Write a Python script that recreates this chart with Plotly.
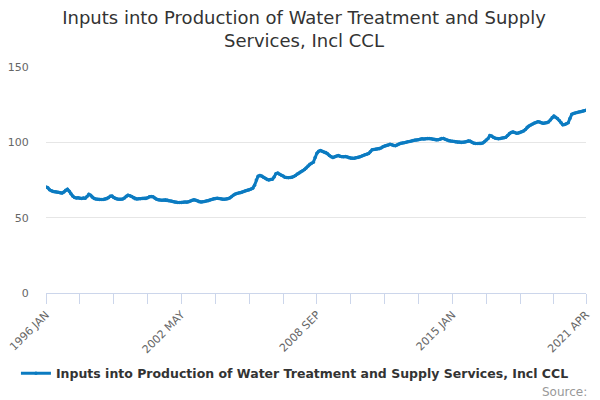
import plotly.graph_objects as go

# --- data: monthly index values, 1996 JAN .. 2021 APR ---
YEARS = list(range(1996, 2022))
MONTH_NAMES = ["JAN", "FEB", "MAR", "APR", "MAY", "JUN",
               "JUL", "AUG", "SEP", "OCT", "NOV", "DEC"]

v1996 = [70.4, 69.8, 68.5, 67.8, 67.4, 67.2, 67.0, 66.8, 66.5, 66.3, 67.0, 68.2]
v1997 = [68.8, 67.5, 65.8, 64.3, 63.4, 63.0, 63.2, 62.9, 62.7, 63.0, 62.9, 64.0]
v1998 = [65.5, 64.9, 63.6, 62.8, 62.4, 62.2, 62.1, 62.0, 62.1, 62.3, 62.6, 63.2]
v1999 = [64.2, 64.3, 63.4, 62.7, 62.4, 62.3, 62.2, 62.4, 63.0, 64.2, 64.9, 64.6]
v2000 = [64.0, 63.2, 62.6, 62.4, 62.5, 62.6, 62.8, 62.7, 62.8, 63.2, 63.8, 64.0]
v2001 = [63.8, 63.0, 62.3, 61.9, 61.7, 61.6, 61.8, 61.9, 61.7, 61.3, 61.0, 60.7]
v2002 = [60.4, 60.2, 60.1, 60.0, 60.1, 60.3, 60.4, 60.2, 60.5, 61.0, 61.5, 61.9]
v2003 = [61.6, 61.0, 60.6, 60.4, 60.5, 60.7, 61.0, 61.3, 61.7, 62.1, 62.5, 62.8]
v2004 = [62.9, 62.7, 62.5, 62.3, 62.3, 62.4, 62.6, 63.0, 63.8, 64.8, 65.6, 66.0]
v2005 = [66.3, 66.6, 66.9, 67.3, 67.8, 68.2, 68.5, 69.0, 69.6, 71.5, 75.0, 77.5]
v2006 = [78.0, 77.6, 76.9, 76.2, 75.4, 75.0, 75.3, 75.5, 77.0, 79.2, 79.6, 78.8]
v2007 = [78.2, 77.6, 76.9, 76.6, 76.5, 76.6, 76.8, 77.3, 78.0, 78.9, 79.6, 80.5]
v2008 = [81.2, 82.0, 83.0, 84.3, 85.5, 86.2, 86.8, 90.0, 92.8, 94.0, 94.5, 94.0]
v2009 = [93.6, 93.2, 92.4, 91.3, 90.5, 89.9, 90.4, 91.0, 91.2, 90.8, 90.5, 90.5]
v2010 = [90.6, 90.2, 89.8, 89.5, 89.4, 89.5, 89.7, 90.0, 90.2, 90.8, 91.3, 91.8]
v2011 = [92.1, 92.6, 93.8, 95.0, 95.2, 95.4, 95.6, 95.8, 96.3, 97.0, 97.6, 97.9]
v2012 = [98.2, 98.7, 98.4, 97.9, 97.8, 98.3, 98.9, 99.4, 99.6, 99.8, 100.1, 100.4]
v2013 = [100.6, 100.9, 101.2, 101.6, 101.5, 101.7, 102.0, 102.3, 102.2, 102.4, 102.5, 102.6]
v2014 = [102.4, 102.1, 101.8, 101.6, 101.7, 102.0, 102.5, 102.6, 102.0, 101.5, 101.1, 100.9]
v2015 = [100.8, 100.6, 100.3, 100.1, 100.0, 99.9, 100.0, 100.2, 100.5, 101.0, 100.8, 100.0]
v2016 = [99.4, 99.3, 99.2, 99.2, 99.3, 99.5, 100.4, 101.6, 102.5, 104.5, 104.2, 103.3]
v2017 = [102.7, 102.5, 102.4, 102.6, 102.8, 103.0, 103.3, 104.5, 105.8, 106.6, 106.9, 106.5]
v2018 = [106.0, 106.2, 106.5, 107.0, 107.6, 108.5, 110.0, 110.8, 111.5, 112.2, 112.8, 113.2]
v2019 = [113.7, 113.5, 113.0, 112.6, 112.8, 113.0, 113.5, 114.8, 116.5, 117.4, 116.6, 115.8]
v2020 = [114.5, 113.0, 111.6, 111.8, 112.4, 113.0, 115.9, 118.6, 119.2, 119.5, 119.8, 120.2]
v2021 = [120.3, 120.6, 121.0, 121.3]

yearly = [v1996, v1997, v1998, v1999, v2000, v2001, v2002, v2003, v2004,
          v2005, v2006, v2007, v2008, v2009, v2010, v2011, v2012, v2013,
          v2014, v2015, v2016, v2017, v2018, v2019, v2020, v2021]

dates, labels, values = [], [], []
for yr, vals in zip(YEARS, yearly):
    for m, v in enumerate(vals):
        dates.append(f"{yr}-{m + 1:02d}-01")
        labels.append(f"{yr} {MONTH_NAMES[m]}")
        values.append(v)

TICK_LABELS = ["1996 JAN", "2002 MAY", "2008 SEP", "2015 JAN", "2021 APR"]
tick_dates = [dates[labels.index(t)] for t in TICK_LABELS]

SERIES_NAME = "Inputs into Production of Water Treatment and Supply Services, Incl CCL"
BLUE = "#0b7bc1"
FONT = "DejaVu Sans"

fig = go.Figure()
fig.add_trace(go.Scatter(
    x=dates, y=values, text=labels,
    mode="lines+markers",
    line=dict(color=BLUE, width=3),
    marker=dict(color=BLUE, size=3.5),
    name=SERIES_NAME,
    hovertemplate="%{text}: %{y}<extra></extra>",
))

# page has an 8px body margin, so the figure is 8px smaller than the window
fig.update_layout(
    width=592, height=392,
    margin=dict(l=38, r=14, t=59, b=107, autoexpand=False),
    paper_bgcolor="white", plot_bgcolor="white",
    font=dict(family=FONT, color="#333333"),
    title=dict(
        text="Inputs into Production of Water Treatment and Supply<br>Services, Incl CCL",
        x=0.5, xanchor="center", xref="container",
        y=0.96, yanchor="top", yref="container",
        font=dict(size=18, color="#333333", family=FONT),
    ),
    showlegend=True,
    legend=dict(
        orientation="h", x=0.461, xanchor="center", y=-0.29, yanchor="top",
        font=dict(size=12.5, color="#333333", family=FONT, weight="bold"),
        itemwidth=30,
    ),
    annotations=[dict(
        text="Source:", xref="paper", yref="paper", x=1.006, y=-0.40,
        xanchor="right", yanchor="top", showarrow=False,
        font=dict(size=12, color="#999999", family=FONT),
    )],
)

fig.update_xaxes(
    type="date",
    range=["1995-12-31 12:00", dates[-1]],
    tickvals=tick_dates, ticktext=TICK_LABELS,
    tickangle=-45, ticklabeloverflow="allow",
    tickfont=dict(size=11, color="#666666"),
    ticks="outside", ticklen=10, tickcolor="#ccd6eb",
    minor=dict(ticks="outside", ticklen=10, tickcolor="#ccd6eb",
               dtick="M19", tick0=dates[0], showgrid=False),
    showline=True, linecolor="#ccd6eb", linewidth=1,
    showgrid=False, zeroline=False,
)
fig.update_yaxes(
    range=[0, 150], tickvals=[0, 50, 100, 150],
    tickfont=dict(size=11, color="#666666"),
    ticks="outside", ticklen=14, tickcolor="rgba(0,0,0,0)",
    showgrid=True, gridcolor="#e6e6e6", gridwidth=1,
    zeroline=False, showline=False,
)

fig.write_html("out.html")
